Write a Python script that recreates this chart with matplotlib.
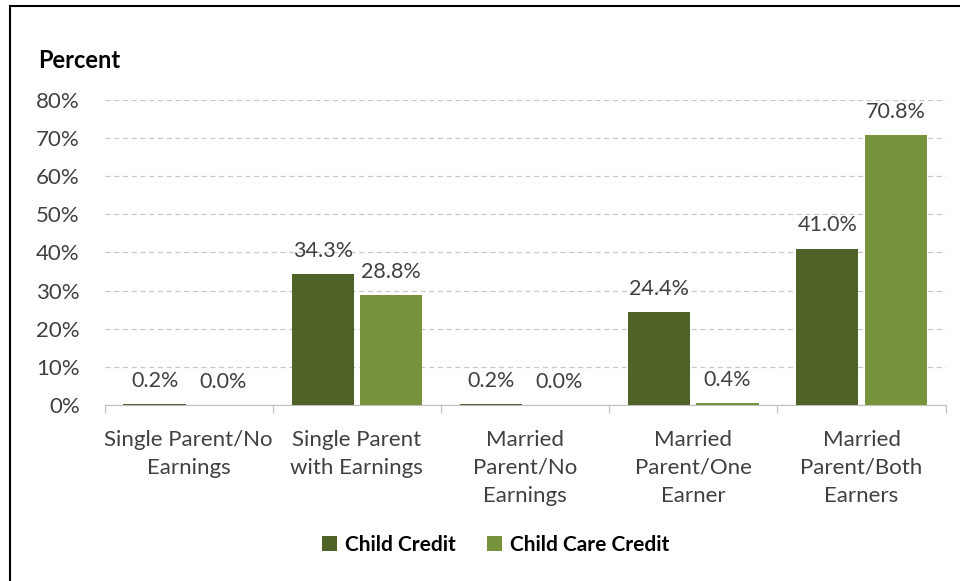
import numpy as np
import matplotlib.pyplot as plt
from matplotlib.lines import Line2D
from matplotlib.ticker import FixedLocator

plt.rcParams['font.family'] = ['Lato', 'DejaVu Sans']

# data
categories = ["Single Parent/No\nEarnings", "Single Parent\nwith Earnings",
              "Married\nParent/No\nEarnings", "Married\nParent/One\nEarner",
              "Married\nParent/Both\nEarners"]
child_credit = [0.2, 34.3, 0.2, 24.4, 41.0]
child_care_credit = [0.0, 28.8, 0.0, 0.4, 70.8]
series_names = ["Child Credit", "Child Care Credit"]
colors = ["#4F6228", "#77933C"]
yticks = [0, 10, 20, 30, 40, 50, 60, 70, 80]

fig = plt.figure(figsize=(9.6, 5.81), dpi=100)
ax = fig.add_axes([0.109, 0.303, 0.876, 0.525])

x = np.arange(len(categories))
w = 0.37
off = 0.203
b1 = ax.bar(x - off, child_credit, w, color=colors[0], label=series_names[0], zorder=3)
b2 = ax.bar(x + off, child_care_credit, w, color=colors[1], label=series_names[1], zorder=3)

for bars, vals in ((b1, child_credit), (b2, child_care_credit)):
    for rect, v in zip(bars, vals):
        ax.annotate(f"{v:.1f}%", (rect.get_x() + rect.get_width() / 2, v),
                    xytext=(0, 9.5), textcoords="offset points",
                    ha="center", va="bottom", fontsize=15.5, color="#404040")

ax.set_xlim(-0.5, len(categories) - 0.5)
ax.set_ylim(0, 80)
ax.set_yticks(yticks)
ax.set_yticklabels([f"{t}%" for t in yticks], fontsize=16, color="#404040")
ax.tick_params(axis="y", length=0, pad=18)

# category labels centred, tick marks between categories
ax.xaxis.set_major_locator(FixedLocator(np.arange(-0.5, len(categories), 1)))
ax.set_xticklabels([])
ax.xaxis.set_minor_locator(FixedLocator(x))
ax.set_xticklabels(categories, minor=True, fontsize=16, color="#404040", linespacing=1.5, va="top")
ax.tick_params(axis="x", which="major", length=6, color="#BFBFBF")
ax.tick_params(axis="x", which="minor", length=0, pad=18)

ax.yaxis.grid(True, linestyle=(0, (4, 3)), color="#C8C8C8", linewidth=0.9, zorder=0)
for s in ["top", "right", "left"]:
    ax.spines[s].set_visible(False)
ax.spines["bottom"].set_color("#BFBFBF")

fig.text(38 / 960, 1 - 60 / 581, "Percent", fontsize=17, fontweight="bold", va="center", ha="left")

fig.legend(handles=[b1, b2], loc="center", bbox_to_anchor=(496 / 960, 1 - 545 / 581),
           ncol=2, frameon=False, prop={"size": 15, "weight": "bold"},
           handlelength=0.7, handleheight=0.7, handletextpad=0.4, columnspacing=1.5)

# frame lines at left and top of the image
fig.add_artist(Line2D([10 / 960, 10 / 960], [0, 1 - 6 / 581], color="black", lw=1.5, transform=fig.transFigure))
fig.add_artist(Line2D([10 / 960, 1], [1 - 6 / 581, 1 - 6 / 581], color="black", lw=1.5, transform=fig.transFigure))

fig.savefig("out.png", dpi=100)
